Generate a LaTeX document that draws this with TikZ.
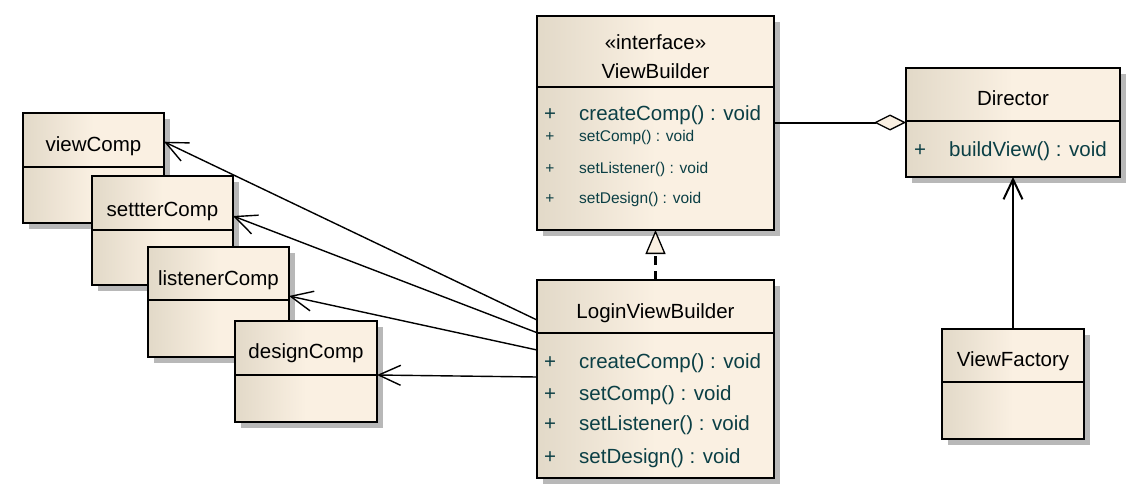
\documentclass[tikz,border=0pt]{standalone}
\usepackage{fontspec}
\setmainfont{Liberation Sans}
\usetikzlibrary{arrows.meta,shadows}
\definecolor{cL}{HTML}{E2D9C8}
\definecolor{cR}{HTML}{FAF0E2}
\definecolor{mtext}{HTML}{0B3F45}
\definecolor{shd}{HTML}{B8B8B8}
\pgfdeclarehorizontalshading{umlshade}{100bp}{color(0bp)=(cL); color(25bp)=(cL); color(50bp)=(cR); color(100bp)=(cR)}
\tikzset{
  umlbox/.style={draw, line width=2.5pt, shading=umlshade, inner sep=0pt, outer sep=0pt,
    anchor=north west, drop shadow={shadow xshift=6pt, shadow yshift=-6pt, fill=shd, opacity=1}},
  divider/.style={line width=2pt},
  nm/.style={font=\fontsize{20.5}{24}\selectfont, anchor=base, inner sep=0pt},
  mbig/.style={font=\fontsize{20.5}{24}\selectfont, text=mtext, anchor=base west, inner sep=0pt},
  msmall/.style={font=\fontsize{15.5}{18}\selectfont, text=mtext, anchor=base west, inner sep=0pt},
  pbig/.style={mbig, anchor=base},
  psmall/.style={msmall, anchor=base},
  dep/.style={line width=1.4pt, -{Straight Barb[length=22pt,width=20pt,line width=1.4pt]}},
  realiz/.style={line width=2.4pt, dash pattern=on 9pt off 6pt,
    -{Triangle[length=24pt,width=20pt,fill=cR,line width=1.3pt]}},
  aggr/.style={line width=2pt, -{Diamond[length=32pt,width=16pt,fill=cR,line width=1.3pt]}},
  navig/.style={line width=2pt, -{Straight Barb[length=20pt,width=19pt,line width=2pt]}}
}
\begin{document}
\begin{tikzpicture}[x=1pt,y=-1pt]
\useasboundingbox[fill=white] (0,0) rectangle (1138,498);

% viewComp
\node[umlbox, minimum width=141pt, minimum height=110pt] (vc) at (23,113) {};
\draw[divider] ([yshift=-54pt]vc.north west) -- ([yshift=-54pt]vc.north east);
\node[nm] (vct) at (93.5,151.7) {viewComp};
% settterComp
\node[umlbox, minimum width=141pt, minimum height=109pt] (sc) at (92,176) {};
\draw[divider] ([yshift=-54pt]sc.north west) -- ([yshift=-54pt]sc.north east);
\node[nm] (sct) at (162.5,216.7) {settterComp};
% listenerComp
\node[umlbox, minimum width=141pt, minimum height=110pt] (lc) at (148,247) {};
\draw[divider] ([yshift=-53pt]lc.north west) -- ([yshift=-53pt]lc.north east);
\node[nm] (lct) at (218.5,285) {listenerComp};
% designComp
\node[umlbox, minimum width=142pt, minimum height=101pt] (dc) at (235,321) {};
\draw[divider] ([yshift=-54pt]dc.north west) -- ([yshift=-54pt]dc.north east);
\node[nm] (dct) at (306,358) {designComp};

% ViewBuilder
\node[umlbox, minimum width=237pt, minimum height=214pt] (vb) at (537,16) {};
\draw[divider] ([yshift=-71pt]vb.north west) -- ([yshift=-71pt]vb.north east);
\node[nm] (vbs) at (655.5,49.3) {«interface»};
\node[nm] (vbt) at (655.5,78) {ViewBuilder};
\node[pbig] (vbp1) at (550,120) {+};
\node[mbig] (vbm1) at (579,120) {createComp() : void};
\node[psmall] (vbp2) at (550,141.7) {+};
\node[msmall] (vbm2) at (579,141.7) {setComp() : void};
\node[psmall] (vbp3) at (550,173) {+};
\node[msmall] (vbm3) at (579,173) {setListener() : void};
\node[psmall] (vbp4) at (550,203) {+};
\node[msmall] (vbm4) at (579,203) {setDesign() : void};

% LoginViewBuilder
\node[umlbox, minimum width=237pt, minimum height=198pt] (lvb) at (537,280) {};
\draw[divider] ([yshift=-53pt]lvb.north west) -- ([yshift=-53pt]lvb.north east);
\node[nm] (lvbt) at (655.5,318) {LoginViewBuilder};
\node[pbig] (lp1) at (550,368) {+};
\node[mbig] (lm1) at (579,368) {createComp() : void};
\node[pbig] (lp2) at (550,400) {+};
\node[mbig] (lm2) at (579,400) {setComp() : void};
\node[pbig] (lp3) at (550,430) {+};
\node[mbig] (lm3) at (579,430) {setListener() : void};
\node[pbig] (lp4) at (550,463) {+};
\node[mbig] (lm4) at (579,463) {setDesign() : void};

% Director
\node[umlbox, minimum width=214pt, minimum height=109pt] (dir) at (906,68) {};
\draw[divider] ([yshift=-53pt]dir.north west) -- ([yshift=-53pt]dir.north east);
\node[nm] (dirt) at (1013,105) {Director};
\node[pbig] (dirp) at (920,156.7) {+};
\node[mbig] (dirm) at (949,156.7) {buildView() : void};

% ViewFactory
\node[umlbox, minimum width=142pt, minimum height=110pt] (vf) at (942,329) {};
\draw[divider] ([yshift=-53pt]vf.north west) -- ([yshift=-53pt]vf.north east);
\node[nm] (vft) at (1013,366.7) {ViewFactory};

% connectors
\draw[dep] ([yshift=-40pt]lvb.north west) -- ([yshift=-28.7pt]vc.north east);
\draw[dep] ([yshift=-52.7pt]lvb.north west) -- ([yshift=-40pt]sc.north east);
\draw[dep] ([yshift=-70pt]lvb.north west) -- ([yshift=-49pt]lc.north east);
\draw[dep] ([yshift=-97pt]lvb.north west) -- ([yshift=-54pt]dc.north east);
\draw[realiz] (lvb.north) -- (vb.south);
\draw[aggr] (vb.east |- dir.west) -- (dir.west);
\draw[navig] (vf.north) -- (dir.south);
\end{tikzpicture}
\end{document}
